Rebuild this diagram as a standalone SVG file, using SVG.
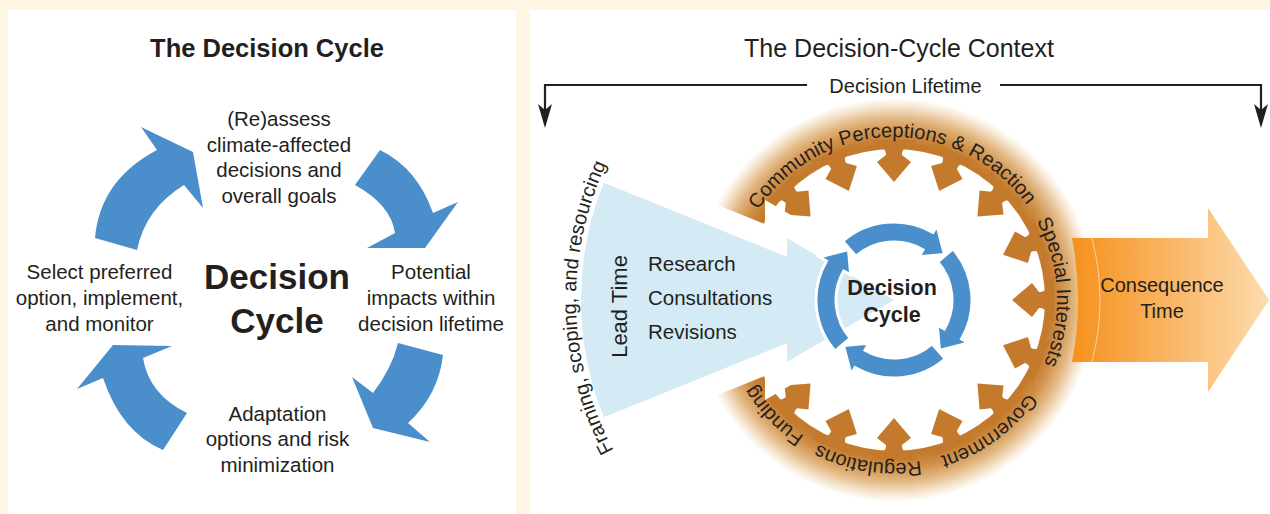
<svg xmlns="http://www.w3.org/2000/svg" width="1270" height="514" viewBox="0 0 1270 514">
<defs>
<style>
.t{font-family:"Liberation Sans",Arial,sans-serif;fill:#231f20}
.b{font-weight:bold}
.body{font-size:20.5px}
.ring{font-size:20px}
.arr{fill:#4a8fcb}
</style>
<radialGradient id="glow" gradientUnits="userSpaceOnUse" cx="894" cy="300" r="202">
<stop offset="0" stop-color="#c47a2c"/>
<stop offset="0.77" stop-color="#c47a2c"/>
<stop offset="0.83" stop-color="#cf8f47"/>
<stop offset="0.9" stop-color="#e3b985"/>
<stop offset="0.96" stop-color="#f6e6d1"/>
<stop offset="1" stop-color="#ffffff"/>
</radialGradient>
<linearGradient id="cons" gradientUnits="userSpaceOnUse" x1="1072" y1="0" x2="1270" y2="0">
<stop offset="0" stop-color="#f6911c"/>
<stop offset="0.5" stop-color="#f9b665"/>
<stop offset="1" stop-color="#fddcae"/>
</linearGradient>
<path id="notch" d="M -24,-160 L -16,-154 C -9,-152 -8,-149 -8,-145 L -17,-138 L 0,-118 L 17,-138 L 8,-145 C 8,-149 9,-152 16,-154 L 24,-160 Z"/>
<path id="wedge" d="M 603.8,182.8 L 787,256.8 L 787,238.2 L 894,300 L 787,361.8 L 787,343.2 L 603.8,417.2 A 313 313 0 0 1 603.8,182.8 Z"/>
<path id="barc" d="M 842.82,241.13 A 78 78 0 0 1 933,232.45 L 937,225.52 L 944.53,254.5 L 919,256.7 L 923,249.77 A 58 58 0 0 0 855.95,256.23 Z"/>
<path id="ringpath" d="M 731,300 A 163 163 0 1 1 1057,300 A 163 163 0 1 1 731,300"/>
<path id="framepath" d="M 650.4,504.4 A 318 318 0 0 1 650.4,95.6"/>
</defs>

<rect x="0" y="0" width="1270" height="514" fill="#fef5e2"/>
<rect x="8" y="10" width="508" height="504" fill="#ffffff"/>
<rect x="530" y="10" width="740" height="504" fill="#ffffff"/>

<!-- LEFT PANEL -->
<text class="t b" x="267" y="57" font-size="25.5" text-anchor="middle">The Decision Cycle</text>

<g id="left-connectors" class="arr">
<path d="M 95,238 Q 100,180 157,150 L 141,127 L 193,152 L 203,208 L 184,185 Q 145.5,208.5 137,250 Z"/>
<path d="M 380,150 Q 417.5,168.5 433,213 L 458,202 L 425,248 L 367,248 L 395,233 Q 391,205 355,185 Z"/>
<path d="M 398,343 L 443,355 Q 438.5,395 408,423 L 430,442 L 373,428 L 352,377 L 373,393 Q 392,368 398,343 Z"/>
<path d="M 187,413 L 163,450 Q 121,432 103,378 L 77,389 L 113,345 L 172,346 L 143,358 Q 149,394.5 187,413 Z"/>
</g>

<g id="node-center-left">
<text class="t b" font-size="35" text-anchor="middle"><tspan x="277" y="289">Decision</tspan><tspan x="277" y="333">Cycle</tspan></text>
</g>
<g id="node-reassess">
<text class="t body" text-anchor="middle"><tspan x="279" y="126">(Re)assess</tspan><tspan x="279" y="151.5">climate-affected</tspan><tspan x="279" y="177">decisions and</tspan><tspan x="279" y="202.5">overall goals</tspan></text>
</g>
<g id="node-potential">
<text class="t body" text-anchor="middle"><tspan x="431" y="279">Potential</tspan><tspan x="431" y="305">impacts within</tspan><tspan x="431" y="331">decision lifetime</tspan></text>
</g>
<g id="node-adaptation">
<text class="t body" text-anchor="middle"><tspan x="277.5" y="420.5">Adaptation</tspan><tspan x="277.5" y="446">options and risk</tspan><tspan x="277.5" y="471.5">minimization</tspan></text>
</g>
<g id="node-select">
<text class="t body" text-anchor="middle"><tspan x="99.5" y="279">Select preferred</tspan><tspan x="99.5" y="305">option, implement,</tspan><tspan x="99.5" y="331">and monitor</tspan></text>
</g>

<!-- RIGHT PANEL -->
<text class="t" x="899" y="57" font-size="25" text-anchor="middle">The Decision-Cycle Context</text>

<g id="lifetime">
<path d="M807,85 H545 V112 M1000,85 H1261 V112" fill="none" stroke="#231f20" stroke-width="2.2"/>
<path d="M545,128 L538,104 L545,110 L552,104 Z M1261,128 L1254,104 L1261,110 L1268,104 Z" fill="#231f20"/>
<text class="t" x="905.5" y="93" font-size="20" text-anchor="middle">Decision Lifetime</text>
</g>

<g id="gear">
<circle cx="894" cy="300" r="202" fill="url(#glow)"/>
<circle cx="894" cy="300" r="151" fill="#ffffff"/>
<g fill="#c47a2c">
<use href="#notch" transform="translate(894,300) rotate(0)"/>
<use href="#notch" transform="translate(894,300) rotate(22.5)"/>
<use href="#notch" transform="translate(894,300) rotate(45)"/>
<use href="#notch" transform="translate(894,300) rotate(67.5)"/>
<use href="#notch" transform="translate(894,300) rotate(90)"/>
<use href="#notch" transform="translate(894,300) rotate(112.5)"/>
<use href="#notch" transform="translate(894,300) rotate(135)"/>
<use href="#notch" transform="translate(894,300) rotate(157.5)"/>
<use href="#notch" transform="translate(894,300) rotate(180)"/>
<use href="#notch" transform="translate(894,300) rotate(202.5)"/>
<use href="#notch" transform="translate(894,300) rotate(225)"/>
<use href="#notch" transform="translate(894,300) rotate(247.5)"/>
<use href="#notch" transform="translate(894,300) rotate(270)"/>
<use href="#notch" transform="translate(894,300) rotate(292.5)"/>
<use href="#notch" transform="translate(894,300) rotate(315)"/>
<use href="#notch" transform="translate(894,300) rotate(337.5)"/>
</g>
</g>

<g id="consequence">
<path d="M 1072,238 L 1208,238 L 1208,208 L 1269,300 L 1208,392 L 1208,362 L 1072,362 Q 1084,300 1072,238 Z" fill="url(#cons)"/>
<path d="M 1092,238 Q 1108,300 1092,362" fill="none" stroke="#fde6c8" stroke-width="1" opacity="0.7"/>
<text class="t" font-size="20" text-anchor="middle"><tspan x="1162" y="292">Consequence</tspan><tspan x="1162" y="318">Time</tspan></text>
</g>

<g id="leadtime">
<use href="#wedge" fill="none" stroke="#ffffff" stroke-width="44" stroke-linejoin="miter"/>
<use href="#wedge" fill="#d4eaf5"/>
<text class="t" transform="translate(627,306.5) rotate(-90)" font-size="22" text-anchor="middle">Lead Time</text>
<text class="t body"><tspan x="648" y="270.5">Research</tspan><tspan x="648" y="305">Consultations</tspan><tspan x="648" y="338.5">Revisions</tspan></text>
<text class="t ring"><textPath href="#framepath" startOffset="213.7" text-anchor="middle">Framing, scoping, and resourcing</textPath></text>
</g>

<g id="inner-cycle" fill="#4a8fcb" stroke="#ffffff" stroke-width="3">
<use href="#barc"/>
<use href="#barc" transform="rotate(90 894 300)"/>
<use href="#barc" transform="rotate(180 894 300)"/>
<use href="#barc" transform="rotate(270 894 300)"/>
</g>
<g id="node-center-right">
<text class="t b" font-size="21.5" text-anchor="middle"><tspan x="892" y="295">Decision</tspan><tspan x="892" y="322">Cycle</tspan></text>
</g>

<g id="ring-labels" class="t ring">
<text><textPath href="#ringpath" startOffset="253.2" text-anchor="middle">Community Perceptions &amp; Reaction</textPath></text>
<text><textPath href="#ringpath" startOffset="503.6" text-anchor="middle">Special Interests</textPath></text>
<text><textPath href="#ringpath" startOffset="665.7" text-anchor="middle">Government</textPath></text>
<text><textPath href="#ringpath" startOffset="793.8" text-anchor="middle">Regulations</textPath></text>
<text><textPath href="#ringpath" startOffset="899" text-anchor="middle">Funding</textPath></text>
</g>
</svg>
